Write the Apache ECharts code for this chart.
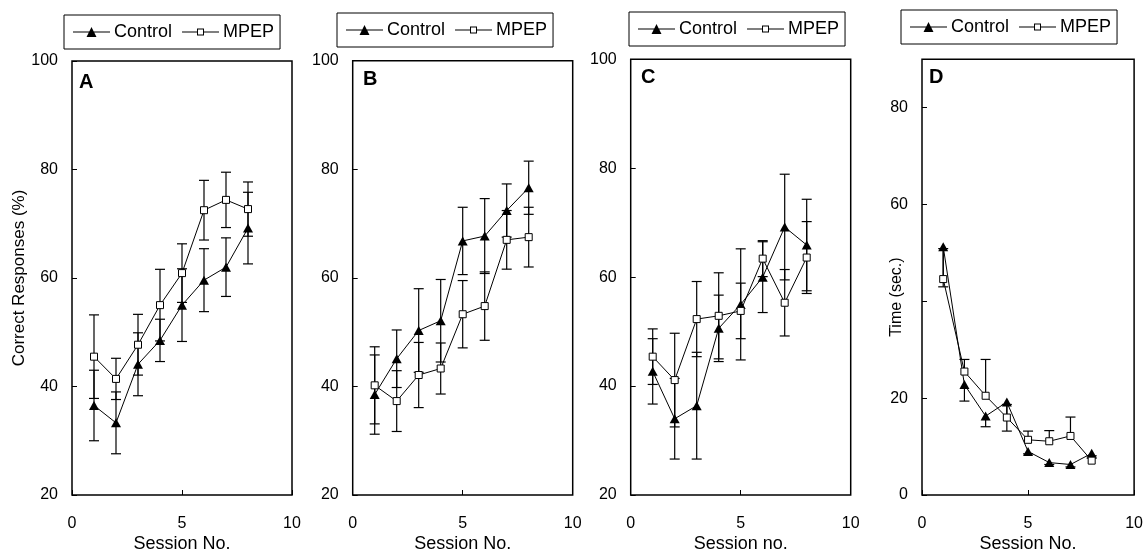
<!DOCTYPE html>
<html>
<head>
<meta charset="utf-8">
<script src="https://cdn.jsdelivr.net/npm/echarts@6/dist/echarts.min.js"></script>
<style>
  html, body { margin: 0; padding: 0; background: #fff; }
  #chart { width: 1146px; height: 558px; }
</style>
</head>
<body>
<div id="chart"></div>
<script>
// Session numbers shared by all four panels
const sessions = [1, 2, 3, 4, 5, 6, 7, 8];

// Panel A: correct responses (%), mean and SEM
const ctrlA    = [36.5, 33.3, 44.1, 48.5, 55.0, 59.6, 62.0, 69.2];
const ctrlErrA = [6.5, 5.7, 5.8, 3.9, 6.7, 5.8, 5.4, 6.6];
const mpepA    = [45.5, 41.4, 47.7, 55.0, 60.9, 72.5, 74.4, 72.7];
const mpepErrA = [7.7, 3.8, 5.6, 6.6, 5.4, 5.5, 5.1, 5.0];

// Panel B
const ctrlB    = [38.5, 45.1, 50.3, 52.1, 66.8, 67.7, 72.4, 76.6];
const ctrlErrB = [7.3, 5.3, 7.7, 7.6, 6.2, 6.9, 4.9, 4.9];
const mpepB    = [40.2, 37.3, 42.1, 43.3, 53.3, 54.8, 67.0, 67.5];
const mpepErrB = [7.1, 5.6, 6.0, 4.7, 6.2, 6.3, 5.4, 5.5];

// Panel C
const ctrlC    = [42.7, 34.0, 36.4, 50.6, 55.0, 60.0, 69.2, 65.9];
const ctrlErrC = [6.0, 7.4, 9.8, 6.1, 10.2, 6.5, 9.7, 8.4];
const mpepC    = [45.4, 41.1, 52.3, 52.9, 53.8, 63.4, 55.3, 63.6];
const mpepErrC = [5.1, 8.6, 6.9, 7.9, 5.1, 3.3, 6.1, 6.6];

// Panel D: time (sec.); control bars drawn downward, MPEP bars upward
const ctrlD    = [51.3, 22.8, 16.3, 19.2, 9.0, 6.7, 6.3, 8.6];
const ctrlErrD = [8.3, 3.4, 2.2, 6.0, 0.5, 0.4, 0.5, 0.5];
const mpepD    = [44.6, 25.5, 20.5, 16.0, 11.4, 11.1, 12.2, 7.1];
const mpepErrD = [6.3, 2.5, 7.5, 2.7, 1.8, 2.2, 3.9, 0.5];

const panelNames = ['A', 'B', 'C', 'D'];
const xTitles = ['Session No.', 'Session No.', 'Session no.', 'Session No.'];
const yTitles = ['Correct Responses (%)', '', '', 'Time (sec.)'];
const legendNames = ['Control', 'MPEP'];

const FONT = '"Liberation Sans", Arial, Helvetica, sans-serif';

// Layout of the four plot boxes (pixels)
const grids = [
  { left: 72,    top: 61,   width: 220, height: 440 },
  { left: 352.7, top: 60.7, width: 220, height: 441.3 },
  { left: 630.7, top: 59.3, width: 220, height: 443.7 },
  { left: 922,   top: 59.3, width: 213.3, height: 441.4 }
];
const legendPos = [
  { left: 64,  top: 15 },
  { left: 337, top: 13 },
  { left: 629, top: 12 },
  { left: 901, top: 10 }
];
const labelPos = [
  { x: 79,  y: 82 },
  { x: 363, y: 79 },
  { x: 641, y: 77 },
  { x: 929, y: 77 }
];

// Legend icons: line with filled triangle, line with open square
const ICON_CTRL = 'path://M0 6.5H37V7.5H0Z M13.5 12L18.5 2L23.5 12Z';
const ICON_MPEP = 'path://M0 6.5H15V7.5H0Z M22 6.5H37V7.5H22Z M15 3.5H22V10.5H15Z M16 4.5V9.5H21V4.5Z';

function pairs(vals) { return vals.map((v, i) => [sessions[i], v]); }

// Error bars: mode 'both', 'down' (mean to mean-err) or 'up' (mean to mean+err)
function errorSeries(idx, means, errs, mode) {
  const data = means.map((m, i) => [
    sessions[i],
    mode === 'up' ? m : m - errs[i],
    mode === 'down' ? m : m + errs[i]
  ]);
  return {
    type: 'custom',
    xAxisIndex: idx, yAxisIndex: idx,
    z: 1, silent: true,
    encode: { x: 0, y: [1, 2] },
    data: data,
    renderItem: function (params, api) {
      const x = api.value(0);
      const lo = api.coord([x, api.value(1)]);
      const hi = api.coord([x, api.value(2)]);
      const hw = 5;
      const st = { stroke: '#000', lineWidth: 1.2 };
      const children = [
        { type: 'line', shape: { x1: lo[0], y1: lo[1], x2: hi[0], y2: hi[1] }, style: st }
      ];
      if (mode !== 'up') {
        children.push({ type: 'line', shape: { x1: lo[0] - hw, y1: lo[1], x2: lo[0] + hw, y2: lo[1] }, style: st });
      }
      if (mode !== 'down') {
        children.push({ type: 'line', shape: { x1: hi[0] - hw, y1: hi[1], x2: hi[0] + hw, y2: hi[1] }, style: st });
      }
      return { type: 'group', children: children };
    }
  };
}

function lineSeries(idx, name, vals) {
  const isCtrl = name === 'Control';
  return {
    type: 'line', name: name,
    xAxisIndex: idx, yAxisIndex: idx,
    z: 3,
    data: pairs(vals),
    symbol: isCtrl ? 'triangle' : 'rect',
    symbolSize: isCtrl ? [10, 9] : 7,
    showAllSymbol: true,
    lineStyle: { color: '#000', width: 1 },
    itemStyle: isCtrl
      ? { color: '#000', borderWidth: 0 }
      : { color: '#fff', borderColor: '#000', borderWidth: 1 },
    emphasis: { disabled: true },
    animation: false
  };
}

const panels = [
  { ctrl: ctrlA, ctrlErr: ctrlErrA, mpep: mpepA, mpepErr: mpepErrA, modes: ['both', 'both'] },
  { ctrl: ctrlB, ctrlErr: ctrlErrB, mpep: mpepB, mpepErr: mpepErrB, modes: ['both', 'both'] },
  { ctrl: ctrlC, ctrlErr: ctrlErrC, mpep: mpepC, mpepErr: mpepErrC, modes: ['both', 'both'] },
  { ctrl: ctrlD, ctrlErr: ctrlErrD, mpep: mpepD, mpepErr: mpepErrD, modes: ['down', 'up'] }
];

const option = {
  backgroundColor: '#fff',
  animation: false,
  textStyle: { fontFamily: FONT },
  grid: grids.map(g => Object.assign({
    show: true, borderColor: '#000', borderWidth: 1.5, backgroundColor: 'transparent'
  }, g)),
  xAxis: grids.map((g, i) => ({
    type: 'value', gridIndex: i,
    min: 0, max: 10, interval: 5,
    name: xTitles[i], nameLocation: 'middle', nameGap: 40,
    nameMoveOverlap: false,
    nameTextStyle: { fontSize: 18, color: '#000', fontFamily: FONT },
    axisLine: { show: false },
    axisTick: { show: true, inside: true, length: 5, lineStyle: { color: '#000', width: 1 } },
    axisLabel: { fontSize: 16, color: '#000', margin: 21, fontFamily: FONT },
    splitLine: { show: false }
  })),
  yAxis: grids.map((g, i) => ({
    type: 'value', gridIndex: i,
    min: i === 3 ? 0 : 20, max: i === 3 ? 90 : 100, interval: 20,
    name: yTitles[i], nameLocation: 'middle', nameGap: i === 3 ? 17 : 44,
    nameMoveOverlap: false,
    nameTextStyle: {
      fontSize: i === 3 ? 16 : 17, color: '#000', fontFamily: FONT,
      padding: i === 3 ? [0, 40, 0, 0] : 0
    },
    axisLine: { show: false },
    axisTick: { show: true, inside: true, length: 5, lineStyle: { color: '#000', width: 1 } },
    axisLabel: {
      fontSize: 16, color: '#000', margin: 14, fontFamily: FONT, showMaxLabel: i !== 3,
      // the time title sits over the 40 s position in panel D
      formatter: i === 3 ? (v => (v === 40 ? '' : String(v))) : (v => String(v))
    },
    splitLine: { show: false }
  })),
  legend: legendPos.map(p => ({
    left: p.left, top: p.top,
    orient: 'horizontal',
    padding: [8, 6, 8, 9],
    itemGap: 10, itemWidth: 37, itemHeight: 14,
    borderColor: '#000', borderWidth: 1,
    backgroundColor: '#fff',
    selectedMode: false,
    textStyle: { fontSize: 18, color: '#000', fontFamily: FONT, padding: [0, 0, 0, -1] },
    data: [
      { name: legendNames[0], icon: ICON_CTRL, itemStyle: { color: '#000', borderWidth: 0 } },
      { name: legendNames[1], icon: ICON_MPEP, itemStyle: { color: '#000', borderWidth: 0 } }
    ]
  })),
  graphic: labelPos.map((p, i) => ({
    type: 'text', x: p.x, y: p.y, z: 10,
    style: {
      text: panelNames[i], fill: '#000',
      font: 'bold 20px ' + FONT,
      textVerticalAlign: 'middle', verticalAlign: 'middle'
    }
  })),
  series: []
};

panels.forEach((p, i) => {
  option.series.push(errorSeries(i, p.ctrl, p.ctrlErr, p.modes[0]));
  option.series.push(errorSeries(i, p.mpep, p.mpepErr, p.modes[1]));
  option.series.push(lineSeries(i, 'Control', p.ctrl));
  option.series.push(lineSeries(i, 'MPEP', p.mpep));
});

const chart = echarts.init(document.getElementById('chart'), null, { renderer: 'canvas' });
chart.setOption(option);
</script>
</body>
</html>
